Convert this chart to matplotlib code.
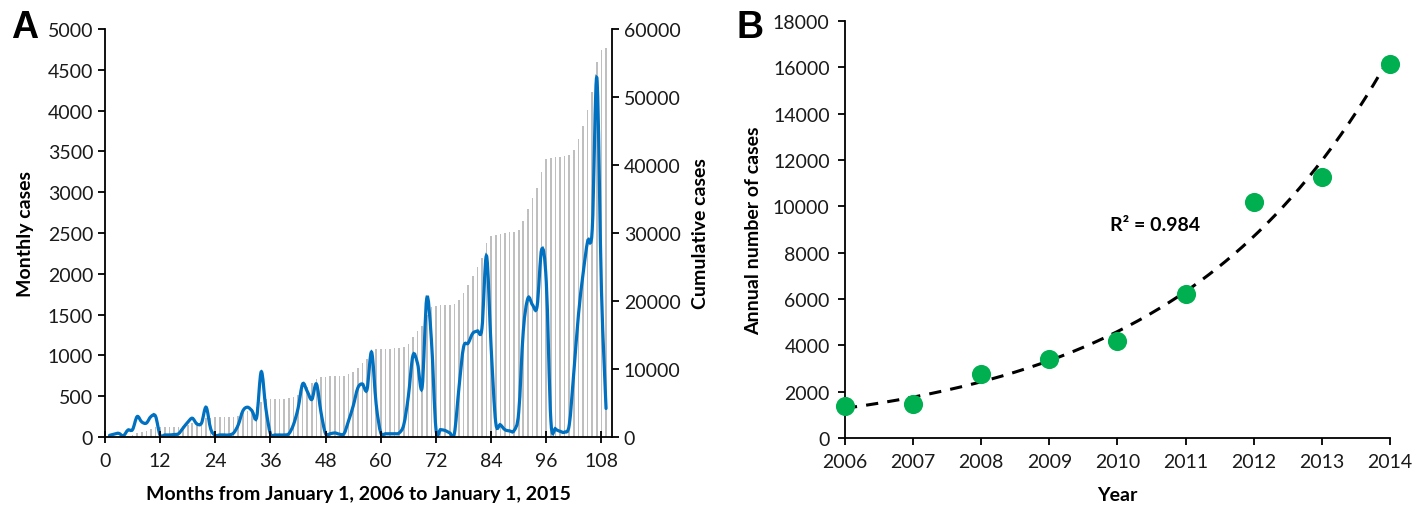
import numpy as np
import matplotlib.pyplot as plt
from matplotlib.path import Path
from matplotlib.patches import PathPatch

# Panel A: monthly cases, month 1 = January 2006
months = np.arange(1, 110)
monthly = [
    20, 35, 45, 15, 85, 90, 250, 185, 170, 250, 255, 20,
    25, 25, 30, 40, 110, 180, 230, 160, 170, 365, 100, 20,
    25, 25, 25, 50, 150, 320, 365, 320, 240, 800, 350, 40,
    25, 25, 25, 40, 150, 350, 650, 560, 460, 650, 300, 40,
    40, 50, 35, 40, 200, 380, 600, 650, 580, 1040, 400, 50,
    40, 40, 40, 50, 150, 500, 1000, 900, 610, 1700, 1200, 100,
    90, 80, 50, 40, 600, 1100, 1150, 1270, 1300, 1330, 2220, 1100,
    180, 150, 90, 75, 80, 300, 1300, 1700, 1620, 1600, 2300, 1900,
    200, 100, 70, 60, 150, 800, 1500, 2000, 2400, 2550, 4400, 1800,
    350,
]
cumulative = np.cumsum(monthly)

# Panel B: annual totals
years = np.array([2006, 2007, 2008, 2009, 2010, 2011, 2012, 2013, 2014])
annual = np.array([1400, 1450, 2750, 3400, 4200, 6200, 10200, 11250, 16150])

plt.rcParams["font.family"] = ["Lato", "DejaVu Sans"]


def smooth_path(x, y):
    # Excel style smoothed line: Bezier segments through every point
    pts = np.column_stack([x, y]).astype(float)
    n = len(pts)
    verts = [pts[0]]
    codes = [Path.MOVETO]
    for i in range(n - 1):
        p0 = pts[i - 1] if i > 0 else pts[i]
        p1 = pts[i]
        p2 = pts[i + 1]
        p3 = pts[i + 2] if i + 2 < n else pts[i + 1]
        verts += [p1 + (p2 - p0) / 6, p2 - (p3 - p1) / 6, p2]
        codes += [Path.CURVE4] * 3
    return Path(verts, codes)


fig = plt.figure(figsize=(14.22, 5.06), dpi=100)
tick_col = "#1a1a1a"

# ---- Panel A
ax = fig.add_axes([0.0738, 0.1344, 0.3566, 0.8063])
ax2 = ax.twinx()

ax2.bar(months, cumulative, width=0.35, color="#bfbfbf", linewidth=0)
ax2.set_ylim(0, 60000)
ax2.set_yticks(range(0, 60001, 10000))
ax2.set_ylabel("Cumulative cases", fontsize=14, fontweight="bold", labelpad=8)

ax.add_patch(PathPatch(smooth_path(months, monthly), fill=False,
                       edgecolor="#0070c0", lw=2.3, capstyle="round"))
ax.set_xlim(0, 110.3)
ax.set_ylim(0, 5000)
ax.set_yticks(range(0, 5001, 500))
ax.set_xticks(range(0, 109, 12))
ax.set_ylabel("Monthly cases", fontsize=14, fontweight="bold", labelpad=10)
ax.set_xlabel("Months from January 1, 2006 to January 1, 2015",
              fontsize=14, fontweight="bold", labelpad=11)
ax.set_zorder(ax2.get_zorder() + 1)
ax.patch.set_visible(False)

for a in (ax, ax2):
    a.spines["top"].set_visible(False)
    for s in a.spines.values():
        s.set_linewidth(1.3)
    a.tick_params(labelsize=14, width=1.3, length=5, colors="black",
                  labelcolor=tick_col)
ax.spines["right"].set_visible(False)
ax2.spines["left"].set_visible(False)
ax2.spines["bottom"].set_visible(False)
ax.tick_params(axis="x", direction="inout", length=8, pad=7)

fig.text(0.008, 0.925, "A", fontsize=27, fontweight="bold",
         family="Liberation Sans")

# ---- Panel B
bx = fig.add_axes([0.5942, 0.1324, 0.3833, 0.8241])
fit = np.polyfit(years - 2006, np.log(annual), 1)
xs = np.linspace(2006, 2014, 200)
bx.plot(xs, np.exp(np.polyval(fit, xs - 2006)), color="black", lw=2.2,
        dashes=(4, 3), zorder=2)
bx.scatter(years, annual, s=190, color="#00b050", zorder=3, clip_on=False,
           linewidths=0)
bx.set_xlim(2006, 2014)
bx.set_ylim(0, 18000)
bx.set_xticks(years)
bx.set_yticks(range(0, 18001, 2000))
bx.spines["top"].set_visible(False)
bx.spines["right"].set_visible(False)
for s in bx.spines.values():
    s.set_linewidth(1.3)
bx.tick_params(labelsize=14, width=1.3, length=5, pad=6, labelcolor=tick_col)
bx.set_xlabel("Year", fontsize=14, fontweight="bold", labelpad=11)
bx.set_ylabel("Annual number of cases", fontsize=14, fontweight="bold",
              labelpad=8)
bx.text(2010.55, 9200, "R² = 0.984", fontsize=14, fontweight="bold",
        ha="center", va="center")

fig.text(0.518, 0.925, "B", fontsize=27, fontweight="bold",
         family="Liberation Sans")

fig.savefig("out.png", dpi=100)
